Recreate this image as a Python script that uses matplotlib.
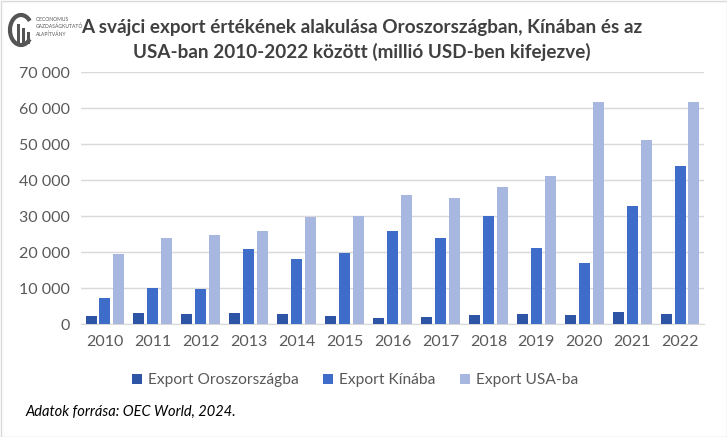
import numpy as np
import matplotlib.pyplot as plt
from matplotlib.patches import Rectangle, Arc

plt.rcParams['font.family'] = ['Lato', 'DejaVu Sans']

years = ['2010', '2011', '2012', '2013', '2014', '2015', '2016',
         '2017', '2018', '2019', '2020', '2021', '2022']
russia = [2300, 3100, 2800, 3000, 2800, 2100, 1800, 2000, 2400, 2700, 2600, 3300, 2900]
china = [7100, 9900, 9700, 20800, 18100, 19800, 25900, 24000, 30100, 21100, 17000, 32900, 43900]
usa = [19400, 23900, 24700, 25900, 29700, 30100, 35900, 35000, 38100, 41100, 61800, 51000, 61600]

labels = ['Export Oroszországba', 'Export Kínába', 'Export USA-ba']
colors = ['#2E54A6', '#3D6DC9', '#A8B7DF']

W, H = 727, 437
fig = plt.figure(figsize=(W / 100, H / 100), dpi=100)
ax = fig.add_axes([81 / W, 1 - 324 / H, (704 - 81) / W, (324 - 72) / H])

x = np.arange(len(years))
bw = 0.23
off = 0.29
for i, (vals, c, lab) in enumerate(zip([russia, china, usa], colors, labels)):
    ax.bar(x + (i - 1) * off, vals, width=bw, color=c, label=lab, zorder=3)

ax.set_xlim(-0.5, len(years) - 0.5)
ax.set_ylim(0, 70000)
ax.set_yticks(np.arange(0, 70001, 10000))
ax.set_yticklabels([f'{v:,}'.replace(',', ' ') if v else '0' for v in range(0, 70001, 10000)])
ax.set_xticks(x)
ax.set_xticklabels(years)
ax.tick_params(length=0, labelsize=11.5, colors='#595959', pad=8)
ax.grid(axis='y', color='#D9D9D9', linewidth=1, zorder=0)
for s in ['top', 'right', 'left']:
    ax.spines[s].set_visible(False)
ax.spines['bottom'].set_color('#D9D9D9')

# legend sits a bit left of the plot centre in the original
ax.legend(loc='upper center', bbox_to_anchor=(0.44, -0.14), ncol=3, frameon=False,
          fontsize=11.2, labelcolor='#595959', handlelength=0.6, handleheight=0.6,
          columnspacing=1.6, handletextpad=0.4)

fig.text(362 / W, 1 - 28 / H, 'A svájci export értékének alakulása Oroszországban, Kínában és az',
         ha='center', va='center', fontsize=13.6, fontweight='bold', color='#404040')
fig.text(362 / W, 1 - 52 / H, 'USA-ban 2010-2022 között (millió USD-ben kifejezve)',
         ha='center', va='center', fontsize=13.6, fontweight='bold', color='#404040')

# simple logo: arc with bars and small text
fig.patches.append(Arc((21 / W, 1 - 30 / H), 22 / W, 30 / H, theta1=60, theta2=300,
                       transform=fig.transFigure, color='#555555', linewidth=3))
for bx, bh in [(17, 20), (22, 16), (27, 12)]:
    fig.patches.append(Rectangle((bx / W, 1 - 44 / H), 3 / W, bh / H, transform=fig.transFigure,
                                 facecolor='#555555', edgecolor='none'))
fig.text(36 / W, 1 - 17 / H, 'OECONOMUS\nGAZDASÁGKUTATÓ\nALAPÍTVÁNY', ha='left', va='top',
         fontsize=3.6, color='#555555', linespacing=1.4)

fig.text(25 / W, 1 - 412 / H, 'Adatok forrása: OEC World, 2024.', ha='left', va='center',
         fontsize=10.5, style='italic', color='black')

fig.patches.append(Rectangle((0.5 / W, 0.5 / H), 1 - 1 / W, 1 - 1 / H, transform=fig.transFigure,
                             facecolor='none', edgecolor='#D9D9D9', linewidth=1))

fig.savefig('out.png', dpi=100)
